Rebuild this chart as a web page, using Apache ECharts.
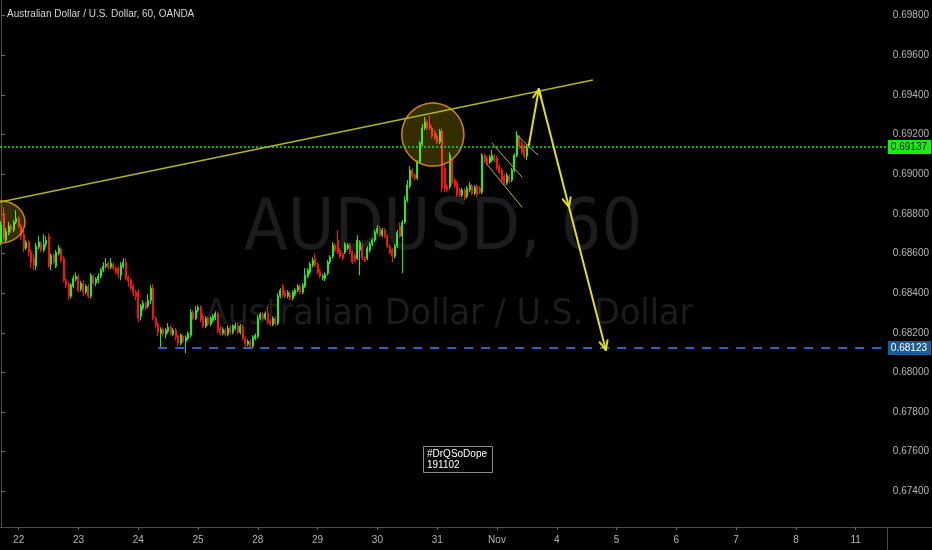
<!DOCTYPE html>
<html><head><meta charset="utf-8">
<script src="https://cdn.jsdelivr.net/npm/echarts@6/dist/echarts.min.js"></script>
<style>html,body{margin:0;padding:0;background:#000;}#c{width:932px;height:550px;}</style>
</head><body><div id="c"></div>
<script>
const chartTitle = 'Australian Dollar / U.S. Dollar, 60, OANDA';
const watermarkMain = 'AUDUSD, 60';
const watermarkSub = 'Australian Dollar / U.S. Dollar';
const noteLines = ['#DrQSoDope', '191102'];

const slotCount = 356;
const dayLabels = ['22','23','24','25','28','29','30','31','Nov','4','5','6','7','8','11'];
const dayStartSlots = [7,31,55,79,103,127,151,175,199,223,247,271,295,319,343];

const open = [
0.68657,0.68803,0.68667,0.68707,0.68738,0.68718,0.68758,0.68778,0.68738,0.68697,
0.68627,0.68657,0.68606,0.68576,0.68536,0.68632,0.68652,0.68617,0.68647,0.68687,
0.68546,0.68591,0.68536,0.68601,0.68622,0.68576,0.68465,0.68445,0.68384,0.68435,
0.68470,0.68485,0.68420,0.68450,0.68404,0.68435,0.68384,0.68485,0.68450,0.68465,
0.68485,0.68516,0.68536,0.68551,0.68531,0.68546,0.68526,0.68526,0.68490,0.68536,
0.68556,0.68480,0.68465,0.68435,0.68404,0.68409,0.68283,0.68324,0.68349,0.68334,
0.68364,0.68425,0.68273,0.68243,0.68197,0.68218,0.68192,0.68207,0.68228,0.68192,
0.68213,0.68182,0.68147,0.68182,0.68157,0.68172,0.68187,0.68303,0.68273,0.68314,
0.68329,0.68283,0.68233,0.68273,0.68243,0.68263,0.68273,0.68298,0.68223,0.68197,
0.68213,0.68192,0.68228,0.68202,0.68223,0.68238,0.68202,0.68233,0.68172,0.68142,
0.68157,0.68132,0.68172,0.68182,0.68273,0.68293,0.68273,0.68298,0.68258,0.68243,
0.68273,0.68248,0.68384,0.68435,0.68404,0.68384,0.68399,0.68374,0.68394,0.68415,
0.68435,0.68404,0.68435,0.68485,0.68505,0.68541,0.68576,0.68546,0.68510,0.68475,
0.68475,0.68500,0.68556,0.68586,0.68642,0.68667,0.68617,0.68596,0.68606,0.68627,
0.68642,0.68606,0.68591,0.68576,0.68617,0.68642,0.68576,0.68576,0.68617,0.68647,
0.68667,0.68707,0.68728,0.68692,0.68718,0.68687,0.68637,0.68617,0.68586,0.68637,
0.68738,0.68687,0.68758,0.68869,0.68940,0.69021,0.68995,0.68980,0.69061,0.69152,
0.69233,0.69263,0.69253,0.69233,0.69212,0.69192,0.69162,0.69217,0.69031,0.68940,
0.68935,0.69071,0.68970,0.68955,0.68920,0.68894,0.68920,0.68889,0.68920,0.68940,
0.68904,0.68940,0.68930,0.68909,0.69096,0.69081,0.69061,0.69071,0.69091,0.69081,
0.69041,0.69021,0.68990,0.68955,0.68990,0.68970,0.69021,0.69096,0.69187,0.69157,
0.69142,0.69091];

const close = [
0.68743,0.68677,0.68712,0.68738,0.68718,0.68758,0.68778,0.68738,0.68687,0.68627,
0.68657,0.68606,0.68556,0.68541,0.68637,0.68657,0.68617,0.68647,0.68667,0.68536,
0.68591,0.68556,0.68606,0.68627,0.68566,0.68465,0.68440,0.68384,0.68440,0.68475,
0.68485,0.68415,0.68450,0.68404,0.68435,0.68384,0.68490,0.68450,0.68470,0.68485,
0.68516,0.68536,0.68546,0.68531,0.68551,0.68526,0.68505,0.68495,0.68541,0.68556,
0.68475,0.68460,0.68425,0.68404,0.68384,0.68273,0.68334,0.68349,0.68324,0.68364,
0.68425,0.68273,0.68238,0.68202,0.68218,0.68192,0.68213,0.68228,0.68197,0.68213,
0.68177,0.68147,0.68187,0.68157,0.68177,0.68197,0.68303,0.68273,0.68314,0.68329,
0.68263,0.68233,0.68273,0.68243,0.68273,0.68283,0.68298,0.68213,0.68197,0.68218,
0.68192,0.68223,0.68202,0.68233,0.68238,0.68202,0.68233,0.68172,0.68142,0.68157,
0.68132,0.68177,0.68187,0.68273,0.68293,0.68273,0.68298,0.68253,0.68243,0.68273,
0.68248,0.68384,0.68415,0.68389,0.68384,0.68404,0.68374,0.68404,0.68415,0.68435,
0.68404,0.68440,0.68490,0.68516,0.68546,0.68566,0.68541,0.68505,0.68485,0.68485,
0.68495,0.68556,0.68581,0.68642,0.68617,0.68606,0.68586,0.68576,0.68647,0.68642,
0.68606,0.68556,0.68566,0.68667,0.68657,0.68576,0.68566,0.68627,0.68647,0.68667,
0.68707,0.68728,0.68692,0.68718,0.68687,0.68637,0.68606,0.68586,0.68637,0.68707,
0.68687,0.68758,0.68869,0.68945,0.69021,0.68990,0.68980,0.69061,0.69157,0.69233,
0.69263,0.69233,0.69233,0.69192,0.69182,0.69162,0.69217,0.68930,0.68925,0.68920,
0.69096,0.68955,0.68940,0.68894,0.68894,0.68920,0.68879,0.68930,0.68945,0.68904,
0.68935,0.68899,0.68909,0.69096,0.69066,0.69056,0.69086,0.69096,0.69071,0.69031,
0.69010,0.68970,0.68955,0.68995,0.68965,0.69021,0.69096,0.69192,0.69137,0.69111,
0.69091,0.69137];

const low = [
0.68642,0.68667,0.68652,0.68692,0.68702,0.68707,0.68748,0.68728,0.68667,0.68606,
0.68617,0.68586,0.68526,0.68516,0.68516,0.68622,0.68606,0.68606,0.68632,0.68526,
0.68516,0.68546,0.68526,0.68591,0.68556,0.68455,0.68425,0.68364,0.68374,0.68425,
0.68460,0.68404,0.68409,0.68384,0.68394,0.68374,0.68374,0.68440,0.68435,0.68450,
0.68475,0.68505,0.68526,0.68521,0.68521,0.68516,0.68495,0.68475,0.68465,0.68526,
0.68465,0.68430,0.68415,0.68384,0.68364,0.68253,0.68263,0.68314,0.68314,0.68324,
0.68344,0.68263,0.68223,0.68182,0.68127,0.68182,0.68172,0.68197,0.68187,0.68182,
0.68162,0.68132,0.68137,0.68147,0.68096,0.68162,0.68177,0.68263,0.68263,0.68303,
0.68253,0.68223,0.68223,0.68233,0.68233,0.68253,0.68263,0.68197,0.68187,0.68187,
0.68182,0.68182,0.68192,0.68192,0.68213,0.68192,0.68192,0.68162,0.68122,0.68132,
0.68117,0.68122,0.68162,0.68172,0.68263,0.68263,0.68263,0.68243,0.68233,0.68233,
0.68238,0.68238,0.68374,0.68379,0.68374,0.68374,0.68364,0.68364,0.68384,0.68404,
0.68394,0.68394,0.68425,0.68475,0.68495,0.68531,0.68531,0.68495,0.68475,0.68465,
0.68460,0.68490,0.68546,0.68576,0.68606,0.68596,0.68576,0.68566,0.68596,0.68617,
0.68596,0.68546,0.68556,0.68566,0.68490,0.68566,0.68556,0.68566,0.68606,0.68637,
0.68657,0.68697,0.68682,0.68682,0.68677,0.68627,0.68596,0.68556,0.68576,0.68627,
0.68677,0.68500,0.68748,0.68859,0.68930,0.68980,0.68970,0.68970,0.69051,0.69142,
0.69223,0.69223,0.69223,0.69182,0.69172,0.69152,0.69152,0.68909,0.68909,0.68909,
0.68925,0.68945,0.68930,0.68884,0.68884,0.68884,0.68869,0.68879,0.68909,0.68894,
0.68894,0.68884,0.68899,0.68899,0.69056,0.69046,0.69051,0.69061,0.69061,0.69021,
0.69000,0.68960,0.68945,0.68945,0.68955,0.68960,0.69010,0.69086,0.69127,0.69101,
0.69081,0.69071];

const high = [
0.68763,0.68834,0.68728,0.68758,0.68748,0.68768,0.68819,0.68788,0.68748,0.68728,
0.68667,0.68667,0.68617,0.68596,0.68652,0.68687,0.68662,0.68697,0.68687,0.68702,
0.68601,0.68601,0.68617,0.68642,0.68632,0.68586,0.68475,0.68455,0.68450,0.68490,
0.68505,0.68495,0.68460,0.68465,0.68445,0.68445,0.68500,0.68495,0.68480,0.68500,
0.68526,0.68556,0.68576,0.68561,0.68576,0.68556,0.68536,0.68536,0.68556,0.68576,
0.68576,0.68490,0.68475,0.68445,0.68415,0.68420,0.68344,0.68364,0.68359,0.68394,
0.68440,0.68445,0.68283,0.68253,0.68228,0.68228,0.68223,0.68248,0.68238,0.68223,
0.68223,0.68192,0.68197,0.68192,0.68187,0.68207,0.68319,0.68314,0.68334,0.68339,
0.68339,0.68293,0.68283,0.68283,0.68283,0.68293,0.68308,0.68308,0.68233,0.68228,
0.68223,0.68238,0.68238,0.68243,0.68248,0.68248,0.68243,0.68243,0.68182,0.68167,
0.68167,0.68187,0.68197,0.68288,0.68303,0.68303,0.68308,0.68334,0.68268,0.68283,
0.68283,0.68399,0.68425,0.68445,0.68415,0.68415,0.68409,0.68415,0.68425,0.68445,
0.68445,0.68450,0.68526,0.68526,0.68556,0.68581,0.68601,0.68556,0.68521,0.68495,
0.68505,0.68566,0.68591,0.68657,0.68652,0.68718,0.68627,0.68606,0.68657,0.68652,
0.68652,0.68617,0.68601,0.68692,0.68667,0.68652,0.68586,0.68637,0.68657,0.68677,
0.68718,0.68743,0.68738,0.68728,0.68728,0.68697,0.68647,0.68627,0.68647,0.68718,
0.68758,0.68768,0.68889,0.68970,0.69041,0.69031,0.69005,0.69071,0.69167,0.69253,
0.69288,0.69278,0.69298,0.69243,0.69223,0.69202,0.69228,0.69233,0.69051,0.68950,
0.69111,0.69081,0.68980,0.68965,0.68930,0.68930,0.68930,0.68940,0.68960,0.68950,
0.68945,0.68950,0.68940,0.69106,0.69106,0.69091,0.69096,0.69122,0.69101,0.69091,
0.69051,0.69031,0.69000,0.69005,0.69000,0.69031,0.69106,0.69217,0.69197,0.69167,
0.69152,0.69152];

// drawings, anchored in (bar slot, price)
const supportLevel = 0.68123;
const supportStartSlot = 63;
const trendLine = [[-0.5, 0.68860], [237.5, 0.69475]];
const flagLines = [
  [196.96, 0.69157, 209.0, 0.68986],
  [194.6, 0.69056, 209.0, 0.68834],
  [206.6, 0.69203, 215.4, 0.69097]
];
const projectionPath = [[211.8, 0.69147], [215.8, 0.69430], [227.9, 0.68834], [242.7, 0.68113]];
const ellipses = [
  [-10.5, 0.68865, 9.5, 0.68653],
  [160.8, 0.69359, 185.7, 0.69041]
];

const FONT = '"Liberation Sans", Arial, sans-serif';
const WM_FONT = '"DejaVu Sans", sans-serif';
const UP = '#1cf01c', DOWN = '#ff1010';

const labelBySlot = {};
dayStartSlots.forEach((s, i) => { labelBySlot[s] = dayLabels[i]; });
const categories = [];
for (let i = 0; i < slotCount; i++) categories.push('s' + i);
const showSlot = (idx) => labelBySlot[idx] !== undefined;

const candleData = open.map((o, i) => [o, close[i], low[i], high[i]]);
const lastPrice = close[close.length - 1];

const projectionSegs = [];
for (let i = 0; i + 1 < projectionPath.length; i++) {
  projectionSegs.push([projectionPath[i][0], projectionPath[i][1], projectionPath[i + 1][0], projectionPath[i + 1][1]]);
}

function segmentRenderer(color, width, head) {
  return function (params, api) {
    const p1 = api.coord([api.value(0), api.value(1)]);
    const p2 = api.coord([api.value(2), api.value(3)]);
    const children = [{ type: 'line', shape: { x1: p1[0], y1: p1[1], x2: p2[0], y2: p2[1] },
      style: { stroke: color, lineWidth: width, lineCap: 'round' } }];
    if (head) {
      const ang = Math.atan2(p2[1] - p1[1], p2[0] - p1[0]);
      [-1, 1].forEach(s => {
        const a = ang + Math.PI + s * 0.42;
        children.push({ type: 'line', shape: { x1: p2[0], y1: p2[1], x2: p2[0] + head * Math.cos(a), y2: p2[1] + head * Math.sin(a) },
          style: { stroke: color, lineWidth: width, lineCap: 'round' } });
      });
    }
    return { type: 'group', children };
  };
}

function ellipseRenderer(params, api) {
  const a = api.coord([api.value(0), api.value(1)]);
  const b = api.coord([api.value(2), api.value(3)]);
  const cx = (a[0] + b[0]) / 2, cy = (a[1] + b[1]) / 2;
  const rx = Math.abs(b[0] - a[0]) / 2, ry = Math.abs(b[1] - a[1]) / 2;
  const pts = [];
  for (let k = 0; k < 120; k++) {
    const t = k / 120 * Math.PI * 2;
    pts.push([cx + rx * Math.cos(t), cy + ry * Math.sin(t)]);
  }
  return { type: 'polygon', shape: { points: pts },
    style: { fill: 'rgba(255,225,0,0.2)', stroke: '#d08418', lineWidth: 1.5 } };
}

const chart = echarts.init(document.getElementById('c'), null, { renderer: 'canvas' });
chart.setOption({
  backgroundColor: '#000000',
  animation: false,
  grid: { left: 0, right: 45, top: 0, bottom: 23, containLabel: false },
  xAxis: [{
    type: 'category', data: categories, boundaryGap: true,
    axisLine: { show: true, lineStyle: { color: '#4a4a4a' } },
    axisTick: { show: true, alignWithLabel: true, length: 3, interval: showSlot, lineStyle: { color: '#6a6a6a' } },
    axisLabel: { interval: showSlot, formatter: (v, idx) => labelBySlot[idx] || '', color: '#b4b4b4',
      fontSize: 10, fontFamily: FONT, margin: 8 },
    splitLine: { show: false }
  }, {
    type: 'value', min: -0.5, max: slotCount - 0.5, show: false
  }],
  yAxis: [{
    type: 'value', position: 'right', min: 0.6722, max: 0.69879, splitNumber: 13,
    axisLine: { show: true, lineStyle: { color: '#4a4a4a' } },
    axisTick: { show: true, length: 4, lineStyle: { color: '#6a6a6a' } },
    splitLine: { show: false },
    axisLabel: { color: '#b4b4b4', fontSize: 10, fontFamily: FONT, margin: 6,
      formatter: v => v.toFixed(5), showMinLabel: false, showMaxLabel: false }
  }],
  graphic: [
    { type: 'text', x: 443, y: 231, scaleX: 0.9, z: -10, silent: true,
      style: { text: watermarkMain, font: '71px ' + WM_FONT, fill: '#1c1c1c', align: 'center', verticalAlign: 'middle' } },
    { type: 'text', x: 449, y: 315, scaleX: 0.93, z: -10, silent: true,
      style: { text: watermarkSub, font: '36px ' + WM_FONT, fill: '#1c1c1c', align: 'center', verticalAlign: 'middle' } },
    { type: 'text', x: 7, y: 14.5, z: 50, silent: true,
      style: { text: chartTitle, font: '10px ' + FONT, fill: '#d4d4d4', align: 'left', verticalAlign: 'middle' } },
    { type: 'group', x: 423, y: 446, z: 100, silent: true, children: [
      { type: 'rect', shape: { x: 0.5, y: 0.5, width: 69, height: 26 }, style: { fill: '#000', stroke: '#8a8a8a', lineWidth: 1 } },
      { type: 'text', x: 4, y: 3, style: { text: noteLines.join('\n'), font: '10px ' + FONT, fill: '#ffffff', lineHeight: 11 } }
    ] },
    { type: 'line', silent: true, shape: { x1: 887, y1: 527.5, x2: 932, y2: 527.5 }, style: { stroke: '#4a4a4a', lineWidth: 1 } },
    { type: 'line', silent: true, shape: { x1: 887.5, y1: 527, x2: 887.5, y2: 550 }, style: { stroke: '#4a4a4a', lineWidth: 1 } }
  ],
  series: [
    {
      name: 'AUDUSD', type: 'candlestick', xAxisIndex: 0, yAxisIndex: 0, data: candleData,
      barWidth: 1.5, z: 2,
      itemStyle: { color: UP, color0: DOWN, borderColor: UP, borderColor0: DOWN, borderWidth: 1 },
      emphasis: { disabled: true },
      markLine: {
        silent: true, symbol: ['none', 'none'], animation: false, precision: 5,
        lineStyle: { color: '#14e614', type: [2, 2], width: 1.6, opacity: 1 },
        label: { show: true, position: 'end', distance: 1, formatter: () => lastPrice.toFixed(5),
          backgroundColor: '#12f012', color: '#000', padding: [2, 4, 2, 3], fontSize: 10, fontFamily: FONT },
        data: [{ yAxis: lastPrice }]
      }
    },
    {
      name: 'ellipses', type: 'custom', xAxisIndex: 1, yAxisIndex: 0, z: 4, silent: true,
      dimensions: ['x1', 'y1', 'x2', 'y2'], encode: { x: [0, 2], y: [1, 3] },
      renderItem: ellipseRenderer, data: ellipses
    },
    {
      name: 'trend', type: 'line', xAxisIndex: 1, yAxisIndex: 0, z: 5, silent: true,
      data: trendLine, symbol: 'none', lineStyle: { color: '#b5b51a', width: 1.5 },
      markLine: {
        silent: true, symbol: ['none', 'none'], animation: false, precision: 5,
        lineStyle: { color: '#2566c4', type: [9, 8], width: 2 },
        label: { show: true, position: 'end', distance: 1, formatter: () => supportLevel.toFixed(5),
          backgroundColor: '#1d5a98', color: '#ffffff', padding: [2, 4, 2, 3], fontSize: 10, fontFamily: FONT },
        data: [[{ coord: [supportStartSlot, supportLevel] }, { coord: [slotCount - 0.5, supportLevel] }]]
      }
    },
    {
      name: 'flag', type: 'custom', xAxisIndex: 1, yAxisIndex: 0, z: 5, silent: true,
      dimensions: ['x1', 'y1', 'x2', 'y2'], encode: { x: [0, 2], y: [1, 3] },
      renderItem: segmentRenderer('#b5b514', 1, 0), data: flagLines
    },
    {
      name: 'projection', type: 'custom', xAxisIndex: 1, yAxisIndex: 0, z: 6, silent: true,
      dimensions: ['x1', 'y1', 'x2', 'y2'], encode: { x: [0, 2], y: [1, 3] },
      renderItem: segmentRenderer('#dede1e', 2, 10), data: projectionSegs
    }
  ]
});
</script>
</body></html>
